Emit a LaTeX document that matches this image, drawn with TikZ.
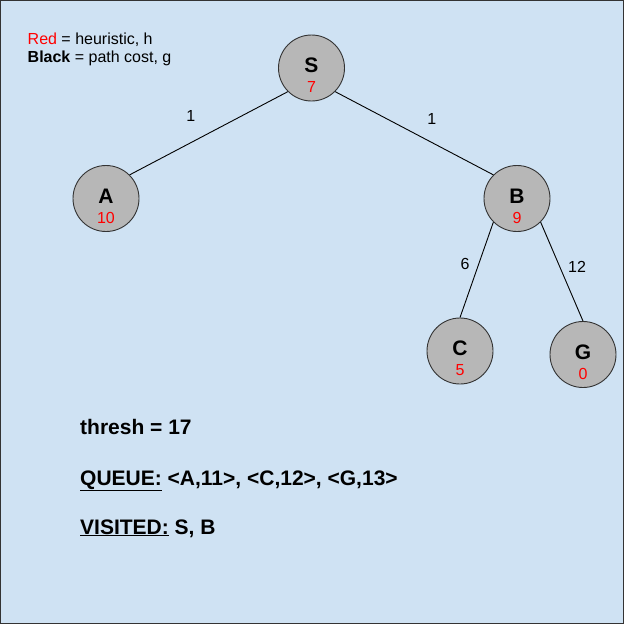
\documentclass[tikz,border=0pt]{standalone}
\usepackage{fontspec}
\setmainfont{Liberation Sans}
\usetikzlibrary{positioning}
\definecolor{paper}{HTML}{CFE2F3}
\definecolor{nodegray}{HTML}{B7B7B7}
\definecolor{rim}{HTML}{333333}
\definecolor{hred}{HTML}{FF0000}
\tikzset{%
    state/.style={circle,draw=rim,fill=nodegray,line width=0.9pt,
        minimum size=66pt,inner sep=0pt},
    letter/.style={anchor=base,inner sep=0pt,
        font=\bfseries\fontsize{21}{21}\selectfont},
    hval/.style={anchor=base,inner sep=0pt,text=hred,
        font=\fontsize{16}{16}\selectfont},
    cost/.style={inner sep=0pt,font=\fontsize{16}{16}\selectfont},
    note/.style={anchor=base west,inner sep=0pt,
        font=\fontsize{16}{16}\selectfont},
    status/.style={anchor=base west,inner sep=0pt,
        font=\bfseries\fontsize{21}{21}\selectfont}
}

\begin{document}
\begin{tikzpicture}[x=1pt,y=-1pt]
    \useasboundingbox (0,0) rectangle (624,624);
    \fill[paper] (0,0) rectangle (624,624);
    \draw[rim,line width=1pt] (0.5,0.5) rectangle (623.5,623.5);
    % legend
    \node[note] (red) at (27.5,44) {\textcolor{hred}{Red} = heuristic, h};
    \node[note] (black) at (27.5,62.7) {\textbf{Black} = path cost, g};
    % tree
    \node[state] (S) at (311.5,68) {};
    \node[state] (A) at (106,198.5) {};
    \node[state] (B) at (517,198.5) {};
    \node[state] (C) at (460,351) {};
    \node[state] (G) at (583,354.5) {};
    \node[letter,yshift=-4.5pt] (S-name) at (S.center) {S};
    \node[hval,yshift=-24.5pt] (S-h) at (S.center) {7};
    \node[letter,yshift=-4.5pt] (A-name) at (A.center) {A};
    \node[hval,yshift=-24.5pt] (A-h) at (A.center) {10};
    \node[letter,yshift=-4.5pt] (B-name) at (B.center) {B};
    \node[hval,yshift=-24.5pt] (B-h) at (B.center) {9};
    \node[letter,yshift=-4.5pt] (C-name) at (C.center) {C};
    \node[hval,yshift=-24.5pt] (C-h) at (C.center) {5};
    \node[letter,yshift=-4.5pt] (G-name) at (G.center) {G};
    \node[hval,yshift=-24.5pt] (G-h) at (G.center) {0};
    \draw[line width=0.9pt] (S.south west) -- (A.north east);
    \draw[line width=0.9pt] (S.south east) -- (B.north west);
    \draw[line width=0.9pt] (B.south west) -- (C.north);
    \draw[line width=0.9pt] (B.south east) -- (G.north);
    \node[cost] (SA) at (190.7,115.5) {1};
    \node[cost] (SB) at (431.7,118.5) {1};
    \node[cost] (BC) at (465,263.5) {6};
    \node[cost] (BG) at (577,266.5) {12};
    % search state
    \node[status] (thresh) at (80,434) {thresh = 17};
    \node[status] (queue) at (80,485) {\underline{QUEUE:} <A,11>, <C,12>, <G,13>};
    \node[status] (visited) at (80,534) {\underline{VISITED:} S, B};
\end{tikzpicture}
\end{document}
